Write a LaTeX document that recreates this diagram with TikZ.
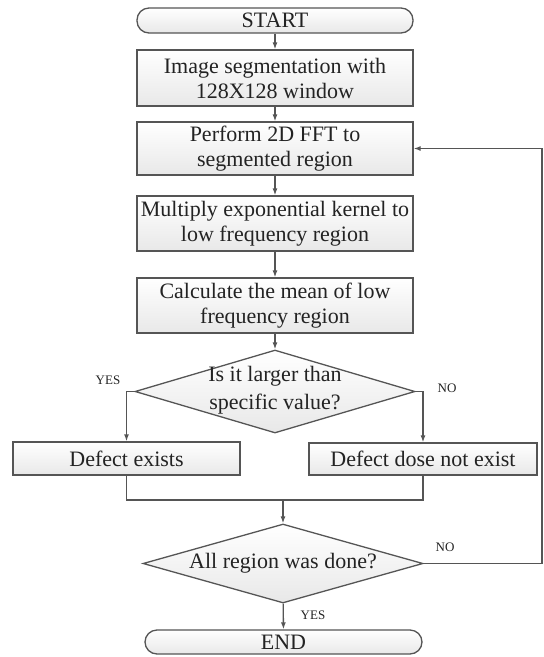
\documentclass[tikz,border=0pt]{standalone}
\usepackage{fontspec}
\setmainfont{Liberation Serif}
\usetikzlibrary{shapes.geometric}
\usetikzlibrary{arrows.meta}

\definecolor{linegray}{RGB}{85,85,85}
\definecolor{textgray}{RGB}{35,35,35}

\tikzset{
  process/.style={draw=linegray, line width=1.3pt, top color=white, bottom color=gray!18,
    minimum width=276pt, inner sep=0pt, align=center, text=textgray,
    font=\fontsize{22}{25}\selectfont},
  terminal/.style={process, rounded corners=12pt, minimum height=25pt},
  decision/.style={diamond, draw=linegray, line width=1.3pt, top color=white, bottom color=gray!18,
    minimum width=280pt, inner sep=0pt, aspect=3.4, text=textgray,
    font=\fontsize{22}{25}\selectfont},
  flow/.style={draw=linegray, line width=1.3pt},
  arr/.style={flow, -{Latex[length=7pt,width=5pt]}},
  answer/.style={text=textgray, font=\fontsize{13}{15}\selectfont},
}

\begin{document}
\begin{tikzpicture}[x=1pt,y=-1pt]
        \useasboundingbox (0,0) rectangle (544,657);

        % main column
        \node[terminal] (start) at (275,20.5) {START};
        \node[process, minimum height=56pt] (seg) at (275,78) {Image segmentation with\\128X128 window};
        \node[process, minimum height=53pt] (fft) at (275,148.5) {Perform 2D FFT to\\segmented region};
        \node[process, minimum height=55pt] (kern) at (275,223.5) {Multiply exponential kernel to\\low frequency region};
        \node[process, minimum height=55pt] (mean) at (275,305.5) {Calculate the mean of low\\frequency region};

        % first decision
        \node[decision, minimum height=83pt] (cmp) at (275,391.5) {};
        \node[align=center, text=textgray, font=\fontsize{22}{25}\selectfont] (cmptext) at (275,390) {Is it larger than\\[3pt]specific value?};
        \node[process, minimum width=227pt, minimum height=33pt] (yes) at (126.5,458.5) {Defect exists};
        \node[process, minimum width=228pt, minimum height=32pt] (no) at (423,459) {Defect dose not exist};

        % second decision
        \coordinate (merge) at (283,500);
        \node[decision, minimum height=79pt] (done) at (283,563.5) {All region was done?};
        \node[terminal, minimum width=277pt, minimum height=24pt] (stop) at (283.5,642) {END};
        \coordinate (loop) at (542,563.5);

        \node[answer] (yes1) at (108,380) {YES};
        \node[answer] (no1) at (447,388) {NO};
        \node[answer] (no2) at (445,547) {NO};
        \node[answer] (yes2) at (313,615) {YES};

        \draw[arr] (start) -- (seg);
        \draw[arr] (seg) -- (fft);
        \draw[arr] (fft) -- (kern);
        \draw[arr] (kern) -- (mean);
        \draw[arr] (mean) -- (cmp);
        \draw[arr] (cmp.west) -| (yes.north);
        \draw[arr] (cmp.east) -| (no.north);
        \draw[flow] (yes.south) |- (merge) -| (no.south);
        \draw[arr] (merge) -- (done);
        \draw[arr] (done) -- (stop);
        \draw[arr] (done.east) -- (loop) |- (fft.east);
      \end{tikzpicture}
\end{document}
